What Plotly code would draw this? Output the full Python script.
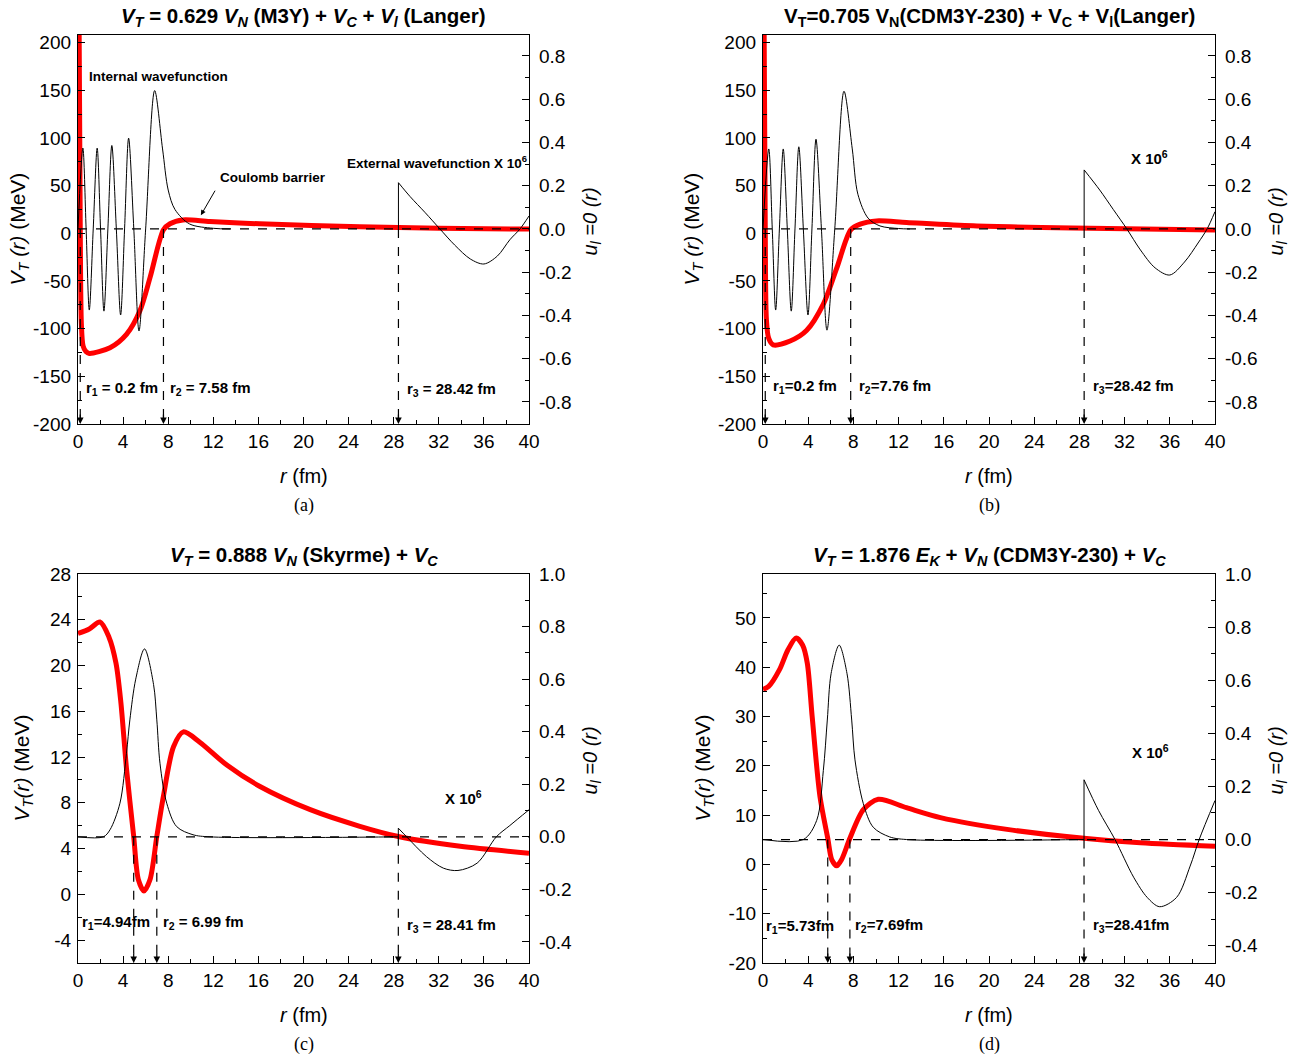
import plotly.graph_objects as go

W, H = 1304, 1063
FONT = "Liberation Sans"

# ---------------- data ----------------
# (a)  V_T = 0.629 V_N(M3Y) + V_C + V_l(Langer)
a_r_vt = [0.1, 0.2, 0.3, 0.45, 0.7, 1.0, 2.84, 4.3, 5.5, 6.4, 7.58, 8.16, 9.3, 11.7, 16.1, 25, 32, 40]
a_vt = [215, 3.7, -95, -118, -124, -126, -120, -106, -81, -46, 3.7, 10, 14, 12.4, 10, 6.8, 5.4, 4.4]
a_r_int = [0, 0.43, 0.72, 1.0, 1.35, 1.70, 2.0, 2.3, 2.65, 3.0, 3.4, 3.78, 4.13, 4.49, 4.95, 5.41,
           6.0, 6.8, 7.5, 8.0, 8.6, 9.9, 12, 13.5]
a_u_int = [0, 0.374, 0, -0.375, 0, 0.374, 0, -0.38, 0, 0.386, 0, -0.398, 0, 0.42, 0, -0.472,
           0, 0.64, 0.37, 0.18, 0.09, 0.023, 0.003, 0]
a_r_ext = [28.42, 29.45, 30.8, 32.1, 33.4, 34.8, 36.0, 37.2, 38.3, 39.2, 40]
a_u_ext = [0.214, 0.15, 0.075, 0, -0.074, -0.139, -0.162, -0.125, -0.05, 0, 0.06]
a_turn = [0.2, 7.58, 28.42]

# (b)  V_T = 0.705 V_N(CDM3Y-230) + V_C + V_l(Langer)
b_r_vt = [0.1, 0.2, 0.3, 0.5, 0.9, 2.4, 3.85, 5.35, 6.54, 7.76, 8.6, 10.05, 12.7, 18.6, 27.4, 40]
b_vt = [215, 3.7, -90, -110, -117, -113, -102, -74, -36, 3.7, 9.7, 13, 11.4, 7.9, 5.5, 3.4]
b_r_int = [0, 0.51, 0.82, 1.12, 1.45, 1.79, 2.15, 2.5, 2.83, 3.17, 3.57, 3.98, 4.33, 4.69, 5.17,
           5.66, 6.35, 7.17, 7.9, 8.4, 9.3, 10.35, 12, 13]
b_u_int = [0, 0.37, 0, -0.375, 0, 0.37, 0, -0.38, 0, 0.38, 0, -0.398, 0, 0.415, 0,
           -0.468, 0, 0.637, 0.37, 0.16, 0.05, 0.014, 0.002, 0]
b_r_ext = [28.42, 29.8, 31.0, 32.2, 33.4, 34.7, 36.0, 37.3, 38.5, 39.3, 40]
b_u_ext = [0.273, 0.18, 0.09, 0, -0.097, -0.18, -0.213, -0.153, -0.065, 0, 0.08]
b_turn = [0.2, 7.76, 28.42]

# (c)  V_T = 0.888 V_N(Skyrme) + V_C
c_r_vt = [0, 1.0, 1.95, 2.74, 3.37, 3.8, 4.3, 4.94, 5.35, 5.85, 6.39, 6.99, 7.58, 8.47, 9.35,
          10.8, 13.2, 16.1, 20.6, 25, 28.41, 33.9, 40]
c_vt = [22.8, 23.2, 23.8, 22.5, 20.2, 16.8, 11.0, 5.06, 1.3, 0.3, 1.3, 5.06, 8.6, 12.9, 14.2,
        13.3, 11.3, 9.45, 7.4, 5.95, 5.06, 4.2, 3.6]
c_r_int = [0, 2.25, 2.84, 3.72, 4.3, 4.6, 5.12, 5.9, 6.7, 6.99, 7.27, 7.87, 8.75, 10.2, 11.7, 28.41]
c_u_int = [0, 0, 0.027, 0.128, 0.318, 0.445, 0.6, 0.715, 0.58, 0.445, 0.28, 0.128, 0.039, 0.008, 0, 0]
c_r_ext = [28.41, 29.15, 30.9, 32.4, 33.7, 35.4, 37.1, 38.3, 40]
c_u_ext = [0.033, 0, -0.075, -0.119, -0.128, -0.1, 0, 0.043, 0.103]
c_turn = [4.94, 6.99, 28.41]

# (d)  V_T = 1.876 E_K + V_N(CDM3Y-230) + V_C
d_r_vt = [0, 0.5, 1.46, 2.2, 2.94, 3.5, 3.92, 4.35, 5.04, 5.73, 6.08, 6.52, 6.96, 7.69, 8.88,
          10.2, 12.7, 15.7, 21.6, 28.41, 33.4, 40]
d_vt = [35.5, 36.1, 39.5, 43.5, 45.9, 44.5, 40.8, 30, 13.8, 5.3, 1.0, -0.3, 1.0, 5.3, 11.1,
        13.2, 11.5, 9.5, 7.1, 5.3, 4.4, 3.7]
d_r_int = [0, 3.57, 4.75, 5.34, 5.69, 6.03, 6.74, 7.43, 7.85, 8.14, 8.88, 9.76, 11.2, 12.7, 28.41]
d_u_int = [0, 0, 0.072, 0.26, 0.45, 0.626, 0.732, 0.626, 0.45, 0.3, 0.135, 0.046, 0.01, 0, 0]
d_r_ext = [28.41, 29.7, 31.15, 32.8, 34.0, 35.1, 36.6, 37.8, 38.6, 40]
d_u_ext = [0.225, 0.109, 0, -0.142, -0.218, -0.253, -0.218, -0.1, 0, 0.147]
d_turn = [5.73, 7.69, 28.41]

r_range = [0, 40]
u_zero = [0, 0]

# ---------------- panel set-up ----------------
panels = [
    dict(x="x", yl="y", yr="y2", box=(78, 529, 35, 424),
         r_vt=a_r_vt, vt=a_vt, r_int=a_r_int, u_int=a_u_int, r_ext=a_r_ext, u_ext=a_u_ext, turn=a_turn,
         lrange=[-200, 208], ldtick=50, rrange=[-0.902, 0.897],
         title="<b><i>V<sub>T</sub></i> = 0.629 <i>V<sub>N</sub></i> (M3Y) + <i>V<sub>C</sub></i> + <i>V<sub>l</sub></i> (Langer)</b>",
         ytitle="<i>V<sub>T</sub> (r)</i> (MeV)", ytx=18, label="(a)"),
    dict(x="x2", yl="y3", yr="y4", box=(763, 1215, 35, 424),
         r_vt=b_r_vt, vt=b_vt, r_int=b_r_int, u_int=b_u_int, r_ext=b_r_ext, u_ext=b_u_ext, turn=b_turn,
         lrange=[-200, 208], ldtick=50, rrange=[-0.902, 0.897],
         title="<b>V<sub>T</sub>=0.705 V<sub>N</sub>(CDM3Y-230) + V<sub>C</sub> + V<sub>l</sub>(Langer)</b>",
         ytitle="<i>V<sub>T</sub> (r)</i> (MeV)", ytx=692, label="(b)"),
    dict(x="x3", yl="y5", yr="y6", box=(78, 529, 574, 963),
         r_vt=c_r_vt, vt=c_vt, r_int=c_r_int, u_int=c_u_int, r_ext=c_r_ext, u_ext=c_u_ext, turn=c_turn,
         lrange=[-6, 28], ldtick=4, rrange=[-0.48, 1.0],
         title="<b><i>V<sub>T</sub></i> = 0.888 <i>V<sub>N</sub></i> (Skyrme) + <i>V<sub>C</sub></i></b>",
         ytitle="<i>V<sub>T</sub>(r)</i> (MeV)", ytx=22, label="(c)"),
    dict(x="x4", yl="y7", yr="y8", box=(763, 1215, 574, 963),
         r_vt=d_r_vt, vt=d_vt, r_int=d_r_int, u_int=d_u_int, r_ext=d_r_ext, u_ext=d_u_ext, turn=d_turn,
         lrange=[-20, 58.9], ldtick=10, rrange=[-0.465, 1.0],
         title="<b><i>V<sub>T</sub></i> = 1.876 <i>E<sub>K</sub></i> + <i>V<sub>N</sub></i> (CDM3Y-230) + <i>V<sub>C</sub></i></b>",
         ytitle="<i>V<sub>T</sub>(r)</i> (MeV)", ytx=703, label="(d)"),
]


def lname(ref):
    # 'x2' -> 'xaxis2', 'y' -> 'yaxis'
    return ref[0] + "axis" + ref[1:]


def ticktxt(vals, fmt):
    return [fmt.format(v) for v in vals]


def px(x):
    return x / W


def py(y):
    return 1 - y / H


fig = go.Figure()
axis_common = dict(showline=True, linecolor="black", linewidth=1.3, ticks="inside", ticklen=7,
                   tickwidth=1.2, tickcolor="black", showgrid=False, zeroline=False, automargin=False,
                   tickfont=dict(family=FONT, size=19, color="black"))
minor_common = dict(ticks="inside", ticklen=4, tickwidth=1.2, tickcolor="black", showgrid=False)

anns = []
for p in panels:
    x0, x1, top, bot = p["box"]
    xdom = [px(x0), px(x1)]
    ydom = [py(bot), py(top)]
    xcen = (x0 + x1) / 2

    # axes
    fig.layout[lname(p["x"])] = dict(axis_common, domain=xdom, anchor=p["yl"], range=r_range,
                                      tickvals=list(range(0, 41, 4)), mirror=True,
                                      minor=dict(minor_common, dtick=2))
    lo, hi = p["lrange"]
    lt = [v for v in range(-200, 201, p["ldtick"]) if lo <= v <= hi]
    fig.layout[lname(p["yl"])] = dict(axis_common, domain=ydom, anchor=p["x"], range=p["lrange"],
                                       tickvals=lt, ticktext=ticktxt(lt, "{:g}"), ticklabelstandoff=2,
                                       minor=dict(minor_common, dtick=p["ldtick"] / 2))
    rt = [round(v * 0.2, 1) for v in range(-5, 6) if p["rrange"][0] <= v * 0.2 <= p["rrange"][1] + 1e-9]
    fig.layout[lname(p["yr"])] = dict(axis_common, overlaying=p["yl"], side="right", anchor=p["x"],
                                       range=p["rrange"], tickvals=rt, ticktext=ticktxt(rt, "{:.1f}"),
                                       ticklabelstandoff=5, minor=dict(minor_common, dtick=0.1))

    # total potential (red)
    fig.add_trace(go.Scatter(x=p["r_vt"], y=p["vt"], xaxis=p["x"], yaxis=p["yl"], mode="lines",
                             line=dict(color="#ff0000", width=5, shape="spline", smoothing=0.8),
                             showlegend=False))
    # internal wavefunction
    fig.add_trace(go.Scatter(x=p["r_int"], y=p["u_int"], xaxis=p["x"], yaxis=p["yr"], mode="lines",
                             line=dict(color="black", width=1, shape="spline", smoothing=0.9),
                             showlegend=False))
    # jump at r3 and external wavefunction
    fig.add_trace(go.Scatter(x=[p["r_ext"][0]] * 2, y=[0, p["u_ext"][0]], xaxis=p["x"], yaxis=p["yr"],
                             mode="lines", line=dict(color="black", width=1), showlegend=False))
    fig.add_trace(go.Scatter(x=p["r_ext"], y=p["u_ext"], xaxis=p["x"], yaxis=p["yr"], mode="lines",
                             line=dict(color="black", width=1, shape="spline", smoothing=0.9),
                             showlegend=False))
    # dashed Q line and turning points
    fig.add_trace(go.Scatter(x=r_range, y=u_zero, xaxis=p["x"], yaxis=p["yr"], mode="lines",
                             line=dict(color="black", width=1.3, dash="dash"), showlegend=False))
    for rt_ in p["turn"]:
        fig.add_trace(go.Scatter(x=[rt_, rt_], y=[0, p["rrange"][0]], xaxis=p["x"], yaxis=p["yr"],
                                 mode="lines", line=dict(color="black", width=1.2, dash="dash"),
                                 showlegend=False))
        anns.append(dict(x=rt_, y=0, xref=p["x"], yref=p["yr"] + " domain", text="", showarrow=True,
                         ax=0, ay=-11, arrowhead=2, arrowsize=1.1, arrowwidth=1.2, arrowcolor="black",
                         standoff=0))

    # titles and labels
    anns.append(dict(x=px(xcen), y=py(top - 18), xref="paper", yref="paper", text=p["title"],
                     showarrow=False, font=dict(family=FONT, size=20.5, color="black"),
                     xanchor="center", yanchor="middle"))
    anns.append(dict(x=px(xcen), y=py(bot + 52), xref="paper", yref="paper",
                     text="<i>r</i> (fm)", showarrow=False,
                     font=dict(family=FONT, size=20, color="black"), xanchor="center", yanchor="middle"))
    anns.append(dict(x=px(xcen), y=py(bot + 81), xref="paper", yref="paper",
                     text=p["label"], showarrow=False,
                     font=dict(family="Liberation Serif", size=18, color="black"),
                     xanchor="center", yanchor="middle"))
    anns.append(dict(x=px(p["ytx"]), y=py((top + bot) / 2), xref="paper", yref="paper",
                     text=p["ytitle"], textangle=-90, showarrow=False, xanchor="center", yanchor="middle",
                     font=dict(family=FONT, size=21, color="black")))
    anns.append(dict(x=px(x1 + 62), y=py((top + bot) / 2 - 8), xref="paper", yref="paper",
                     text="<i>u<sub>l</sub> =0 (r)</i>", textangle=-90, showarrow=False,
                     xanchor="center", yanchor="middle",
                     font=dict(family=FONT, size=20, color="black")))

# in-plot text
bold = dict(family=FONT, size=15, color="black")
small = dict(family=FONT, size=13.5, color="black")
txt = [
    ("x", "y", 0.8, 165, "<b>Internal wavefunction</b>", small),
    ("x", "y", 23.7, 75, "<b>External wavefunction X 10<sup>6</sup></b>", small),
    ("x", "y", 0.5, -163, "<b>r<sub>1</sub> = 0.2 fm</b>", bold),
    ("x", "y", 7.95, -163, "<b>r<sub>2</sub> = 7.58 fm</b>", bold),
    ("x", "y", 29.0, -164, "<b>r<sub>3</sub> = 28.42 fm</b>", bold),
    ("x2", "y3", 32.4, 80, "<b>X 10<sup>6</sup></b>", bold),
    ("x2", "y3", 0.7, -161, "<b>r<sub>1</sub>=0.2 fm</b>", bold),
    ("x2", "y3", 8.3, -161, "<b>r<sub>2</sub>=7.76 fm</b>", bold),
    ("x2", "y3", 29.0, -161, "<b>r<sub>3</sub>=28.42 fm</b>", bold),
    ("x3", "y5", 32.4, 8.5, "<b>X 10<sup>6</sup></b>", bold),
    ("x3", "y5", 0.2, -2.5, "<b>r<sub>1</sub>=4.94fm</b>", bold),
    ("x3", "y5", 7.4, -2.5, "<b>r<sub>2</sub> = 6.99 fm</b>", bold),
    ("x3", "y5", 29.0, -2.7, "<b>r<sub>3</sub> = 28.41 fm</b>", bold),
    ("x4", "y7", 32.5, 22.9, "<b>X 10<sup>6</sup></b>", bold),
    ("x4", "y7", 0.1, -12.5, "<b>r<sub>1</sub>=5.73fm</b>", bold),
    ("x4", "y7", 8.0, -12.3, "<b>r<sub>2</sub>=7.69fm</b>", bold),
    ("x4", "y7", 29.0, -12.3, "<b>r<sub>3</sub>=28.41fm</b>", bold),
]
for xr, yr, xv, yv, t, f in txt:
    anns.append(dict(x=xv, y=yv, xref=xr, yref=yr, text=t, showarrow=False, xanchor="left",
                     yanchor="middle", font=f))

# Coulomb barrier label with its pointer
anns.append(dict(x=10.9, y=19, xref="x", yref="y", ax=15, ay=-26,
                 text="", showarrow=True, arrowhead=2, arrowsize=1, arrowwidth=1, arrowcolor="black"))
anns.append(dict(x=12.4, y=59, xref="x", yref="y", text="<b>Coulomb barrier</b>", showarrow=False,
                 xanchor="left", yanchor="middle", font=small))

fig.update_layout(width=W, height=H, margin=dict(l=0, r=0, t=0, b=0),
                  paper_bgcolor="white", plot_bgcolor="white", annotations=anns,
                  font=dict(family=FONT, color="black"))

# drop the browser's default 8 px body margin so the figure sits at the page corner
fig.write_html("out.html", config={"displayModeBar": False},
               post_script="document.body.style.margin='0';")
